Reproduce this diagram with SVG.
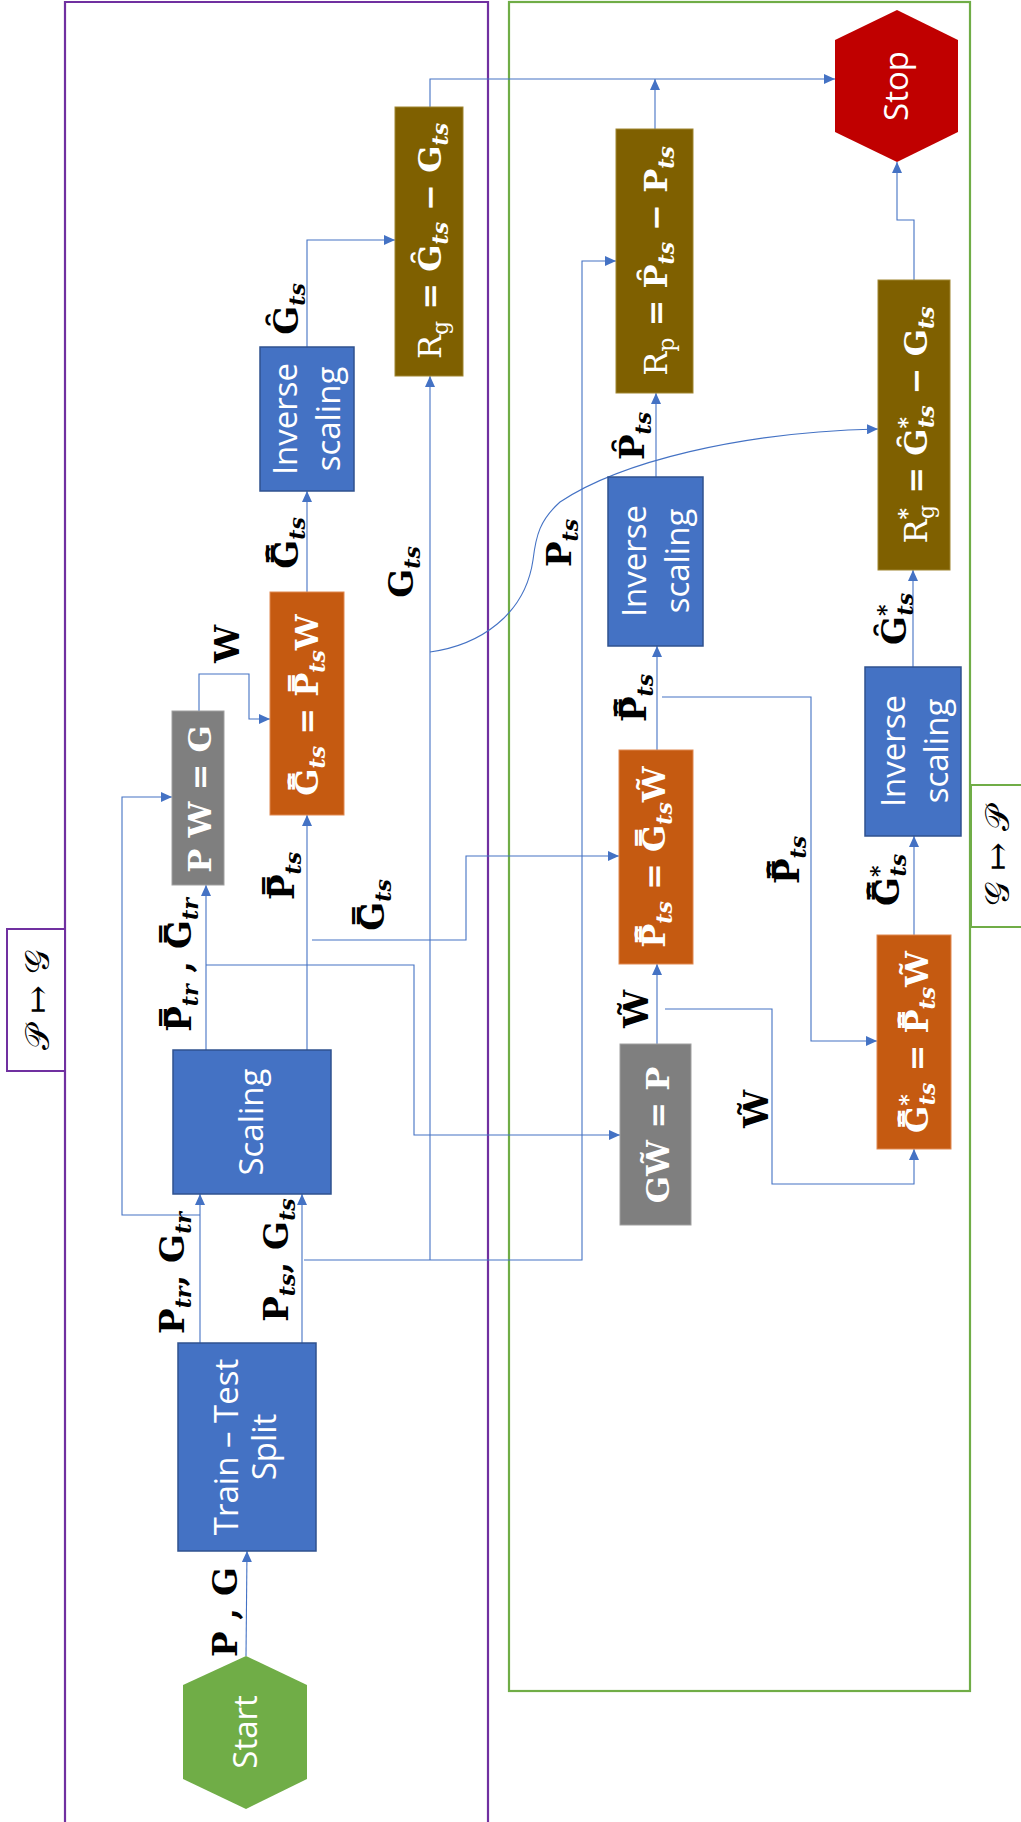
<svg xmlns="http://www.w3.org/2000/svg" width="1021" height="1822" viewBox="0 0 1021 1822">
<defs>
<marker id="ah" markerWidth="11" markerHeight="10" refX="11" refY="5" orient="auto" markerUnits="userSpaceOnUse"><path d="M0,0 L11,5 L0,10 z" fill="#4472C4"/></marker>
<style>
.cn{fill:none;stroke:#4472C4;stroke-width:1.1}
.blue{fill:#4472C4;stroke:#2F528F;stroke-width:1.5}
.org{fill:#C55A11;stroke:#E08850;stroke-width:1}
.brn{fill:#7F6000;stroke:#A08530;stroke-width:1}
.gry{fill:#7F7F7F;stroke:#A0A0A0;stroke-width:1}
.nt{font-family:"Open Sans","Noto Sans",sans-serif;font-size:33px;fill:#fff;text-anchor:middle}
.lb{font-family:"DejaVu Serif",serif;font-weight:bold;font-size:34px;fill:#000;text-anchor:middle}
.mt{font-family:"DejaVu Serif",serif;font-weight:bold;font-size:32px;fill:#fff;text-anchor:middle}
.s{font-style:italic;font-size:22px}
.up{font-style:normal}
.u{font-weight:normal}
.fl{font-family:"DejaVu Serif","DejaVu Sans",serif;font-size:34px;fill:#000;text-anchor:middle}
</style>
</defs>
<rect width="1021" height="1822" fill="#fff"/>
<g id="frame-P-to-G">
<path d="M65,1822 V2 H488 V1822" fill="none" stroke="#7030A0" stroke-width="2.2"/>
<rect x="7" y="929" width="58" height="142" fill="#fff" stroke="#7030A0" stroke-width="2"/>
<text class="fl" transform="translate(49,1000) rotate(-90)">𝒫 ↦ 𝒢</text>
</g>
<g id="frame-G-to-P">
<rect x="509" y="2" width="461" height="1689" fill="none" stroke="#70AD47" stroke-width="2.2"/>
<rect x="971" y="785" width="60" height="142" fill="#fff" stroke="#70AD47" stroke-width="2"/>
<text class="fl" transform="translate(1009,856) rotate(-90)">𝒢 ↦ 𝒫</text>
</g>
<g id="connectors">
<path class="cn" marker-end="url(#ah)" d="M246,1656 L247,1551"/>
<path class="cn" marker-end="url(#ah)" d="M200,1343 V1194"/>
<path class="cn" marker-end="url(#ah)" d="M302,1343 V1194"/>
<path class="cn" marker-end="url(#ah)" d="M200,1215 H122 V797 H172"/>
<path class="cn" marker-end="url(#ah)" d="M206,1050 V885"/>
<path class="cn" marker-end="url(#ah)" d="M307,1050 V815"/>
<path class="cn" marker-end="url(#ah)" d="M206,965 H414 V1135 H620"/>
<path class="cn" marker-end="url(#ah)" d="M312,940 H466 V856 H619"/>
<path class="cn" marker-end="url(#ah)" d="M199,711 V674 H249 V719 H270"/>
<path class="cn" marker-end="url(#ah)" d="M307,592 V491"/>
<path class="cn" marker-end="url(#ah)" d="M307,347 V240 H395"/>
<path class="cn" marker-end="url(#ah)" d="M430,107 V79 H835"/>
<path class="cn" marker-end="url(#ah)" d="M655,129 V79"/>
<path class="cn" marker-end="url(#ah)" d="M304,1260 H582 V261 H616"/>
<path class="cn" marker-end="url(#ah)" d="M430,1260 V376"/>
<path class="cn" marker-end="url(#ah)" d="M430,652 C480,645 525,615 533,560 C536,535 540,520 560,502 C620,462 740,432 878,429"/>
<path class="cn" marker-end="url(#ah)" d="M656,477 V393"/>
<path class="cn" marker-end="url(#ah)" d="M657,750 V646"/>
<path class="cn" marker-end="url(#ah)" d="M662,697 H811 V1041 H877"/>
<path class="cn" marker-end="url(#ah)" d="M657,1044 V964"/>
<path class="cn" marker-end="url(#ah)" d="M665,1009 H772 V1184 H914 V1149"/>
<path class="cn" marker-end="url(#ah)" d="M914,935 V836"/>
<path class="cn" marker-end="url(#ah)" d="M913,667 V570"/>
<path class="cn" marker-end="url(#ah)" d="M914,280 V220 H897 V162"/>
</g>
<g id="edge-labels">
<text class="lb" transform="translate(237,1612) rotate(-90)">P , G</text>
<text class="lb" transform="translate(184,1273) rotate(-90)">P<tspan class="s" dy="7">tr</tspan><tspan dy="-7">, G</tspan><tspan class="s" dy="7">tr</tspan></text>
<text class="lb" transform="translate(288,1260) rotate(-90)">P<tspan class="s" dy="7">ts</tspan><tspan dy="-7">, G</tspan><tspan class="s" dy="7">ts</tspan></text>
<text class="lb" transform="translate(191,965) rotate(-90)">P&#x33F;<tspan class="s" dy="7">tr</tspan><tspan dy="-7"> , G&#x33F;</tspan><tspan class="s" dy="7">tr</tspan></text>
<text class="lb" transform="translate(294,876) rotate(-90)">P&#x33F;<tspan class="s" dy="7">ts</tspan></text>
<text class="lb" transform="translate(384,905) rotate(-90)">G&#x33F;<tspan class="s" dy="7">ts</tspan></text>
<text class="lb" transform="translate(239,644) rotate(-90)">W</text>
<text class="lb" transform="translate(298,543) rotate(-90)">G&#x311;&#x33F;<tspan class="s" dy="7">ts</tspan></text>
<text class="lb" transform="translate(298,309) rotate(-90)">G&#x311;<tspan class="s" dy="7">ts</tspan></text>
<text class="lb" transform="translate(413,572) rotate(-90)">G<tspan class="s" dy="7">ts</tspan></text>
<text class="lb" transform="translate(571,543) rotate(-90)">P<tspan class="s" dy="7">ts</tspan></text>
<text class="lb" transform="translate(644,436) rotate(-90)">P&#x311;<tspan class="s" dy="7">ts</tspan></text>
<text class="lb" transform="translate(646,698) rotate(-90)">P&#x311;&#x33F;<tspan class="s" dy="7">ts</tspan></text>
<text class="lb" transform="translate(648,1009) rotate(-90)">W&#x303;</text>
<text class="lb" transform="translate(799,860) rotate(-90)">P&#x311;&#x33F;<tspan class="s" dy="7">ts</tspan></text>
<text class="lb" transform="translate(768,1109) rotate(-90)">W&#x303;</text>
<text class="lb" transform="translate(899,880) rotate(-90)">G&#x311;&#x33F;<tspan class="s" dy="-13">*</tspan><tspan class="s" dx="-11" dy="20">ts</tspan></text>
<text class="lb" transform="translate(906,619) rotate(-90)">G&#x311;<tspan class="s" dy="-13">*</tspan><tspan class="s" dx="-11" dy="20">ts</tspan></text>
</g>
<g id="start">
<polygon points="246,1656 307,1685 307,1779 246,1809 183,1779 183,1685" fill="#70AD47"/>
<text class="nt" transform="translate(257,1732) rotate(-90)">Start</text>
</g>
<g id="train-test-split">
<rect class="blue" x="178" y="1343" width="138" height="208"/>
<text class="nt" transform="translate(238,1447) rotate(-90)">Train – Test</text>
<text class="nt" transform="translate(276,1447) rotate(-90)">Split</text>
</g>
<g id="scaling">
<rect class="blue" x="173" y="1050" width="158" height="144"/>
<text class="nt" transform="translate(263,1122) rotate(-90)">Scaling</text>
</g>
<g id="pw-g">
<rect class="gry" x="172" y="711" width="52" height="174"/>
<text class="mt" transform="translate(211,799) rotate(-90)" font-size="33">P W = G</text>
</g>
<g id="g-hat-top">
<rect class="org" x="270" y="592" width="74" height="223"/>
<text class="mt" transform="translate(318,705) rotate(-90)">G&#x311;&#x33F;<tspan class="s" dy="7">ts</tspan><tspan dy="-7"> = P&#x33F;</tspan><tspan class="s" dy="7">ts</tspan><tspan dy="-7">W</tspan></text>
</g>
<g id="inverse-scaling-1">
<rect class="blue" x="260" y="347" width="94" height="144"/>
<text class="nt" transform="translate(297,419) rotate(-90)">Inverse</text>
<text class="nt" transform="translate(340,419) rotate(-90)">scaling</text>
</g>
<g id="rg">
<rect class="brn" x="395" y="107" width="68" height="269"/>
<text class="mt" transform="translate(441,241) rotate(-90)"><tspan class="u">R</tspan><tspan class="s u up" dy="7">g</tspan><tspan dy="-7"> = G&#x311;</tspan><tspan class="s" dy="7">ts</tspan><tspan dy="-7"> − G</tspan><tspan class="s" dy="7">ts</tspan></text>
</g>
<g id="stop">
<polygon points="897,10 958,40 958,132 897,162 835,132 835,40" fill="#C00000"/>
<text class="nt" transform="translate(908,86) rotate(-90)">Stop</text>
</g>
<g id="rp">
<rect class="brn" x="616" y="129" width="77" height="264"/>
<text class="mt" transform="translate(667,261) rotate(-90)"><tspan class="u">R</tspan><tspan class="s u up" dy="7">p</tspan><tspan dy="-7"> = P&#x311;</tspan><tspan class="s" dy="7">ts</tspan><tspan dy="-7"> − P</tspan><tspan class="s" dy="7">ts</tspan></text>
</g>
<g id="inverse-scaling-2">
<rect class="blue" x="608" y="477" width="95" height="169"/>
<text class="nt" transform="translate(646,561) rotate(-90)">Inverse</text>
<text class="nt" transform="translate(689,561) rotate(-90)">scaling</text>
</g>
<g id="p-hat-mid">
<rect class="org" x="619" y="750" width="74" height="214"/>
<text class="mt" transform="translate(665,857) rotate(-90)">P&#x311;&#x33F;<tspan class="s" dy="7">ts</tspan><tspan dy="-7"> = G&#x33F;</tspan><tspan class="s" dy="7">ts</tspan><tspan dy="-7">W&#x303;</tspan></text>
</g>
<g id="gw-p">
<rect class="gry" x="620" y="1044" width="71" height="181"/>
<text class="mt" transform="translate(669,1135) rotate(-90)" font-size="33">GW&#x303; = P</text>
</g>
<g id="rg-star">
<rect class="brn" x="878" y="280" width="72" height="290"/>
<text class="mt" transform="translate(927,425) rotate(-90)"><tspan class="u">R</tspan><tspan class="s" dy="-13">*</tspan><tspan class="s u up" dx="-11" dy="20">g</tspan><tspan dy="-7"> = G&#x311;</tspan><tspan class="s" dy="-13">*</tspan><tspan class="s" dx="-11" dy="20">ts</tspan><tspan dy="-7"> − G</tspan><tspan class="s" dy="7">ts</tspan></text>
</g>
<g id="inverse-scaling-3">
<rect class="blue" x="865" y="667" width="96" height="169"/>
<text class="nt" transform="translate(905,751) rotate(-90)">Inverse</text>
<text class="nt" transform="translate(948,751) rotate(-90)">scaling</text>
</g>
<g id="g-star-hat">
<rect class="org" x="877" y="935" width="74" height="214"/>
<text class="mt" transform="translate(928,1042) rotate(-90)">G&#x311;&#x33F;<tspan class="s" dy="-13">*</tspan><tspan class="s" dx="-11" dy="20">ts</tspan><tspan dy="-7"> = P&#x311;&#x33F;</tspan><tspan class="s" dy="7">ts</tspan><tspan dy="-7">W&#x303;</tspan></text>
</g>
</svg>
